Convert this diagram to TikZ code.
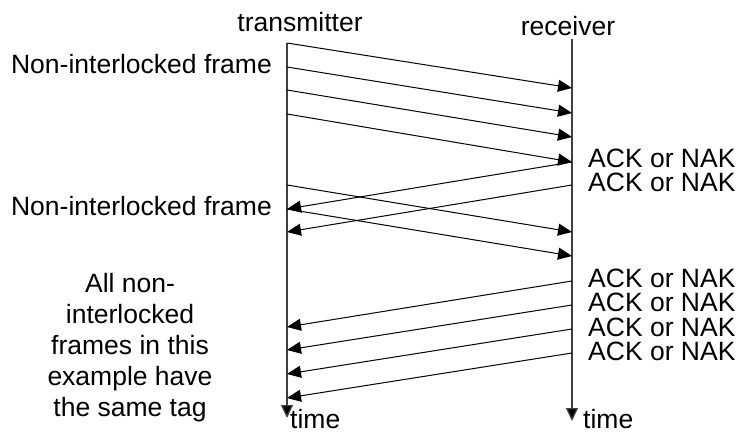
\documentclass[tikz,border=0pt]{standalone}
\usepackage{fontspec}
\setmainfont{Liberation Sans}
\usetikzlibrary{arrows.meta}
\begin{document}
\begin{tikzpicture}[x=1pt,y=-1pt,
  lbl/.style={inner sep=0pt, font=\fontsize{26.5}{23.5}\selectfont},
  ack/.style={lbl, anchor=base west, text height=18pt, text depth=0pt},
  msg/.style={line width=1pt, -{Triangle[length=14pt,width=12pt]}},
  axis/.style={line width=1.3pt, draw=black!75, -{Triangle[length=13pt,width=12pt,fill=black]}},
]
\useasboundingbox (0,0) rectangle (741,435);
% lifelines
\coordinate (ttop) at (287,43);
\coordinate (tbot) at (287,418);
\coordinate (rtop) at (572,39);
\coordinate (rbot) at (572,421);
\draw[axis] (ttop) -- (tbot);
\draw[axis] (rtop) -- (rbot);
% labels
\node[lbl, anchor=base] (tx) at (300,32) {transmitter};
\node[lbl, anchor=base] (rx) at (568,36) {receiver};
\node[lbl, anchor=base east] (nf1) at (272,74) {Non-interlocked frame};
\node[lbl, anchor=base east] (nf2) at (272,216) {Non-interlocked frame};
\node[lbl, anchor=base west] (tt) at (290,428) {time};
\node[lbl, anchor=base west] (rt) at (583,428) {time};
\node[lbl, anchor=center, align=center, font=\fontsize{26.5}{31}\selectfont] (note) at (130,348)
  {All non-\\interlocked\\frames in this\\example have\\the same tag};
\node[ack] (ak1) at (588,168) {ACK or NAK};
\node[ack] (ak2) at (588,192) {ACK or NAK};
\node[ack] (ak3) at (588,288) {ACK or NAK};
\node[ack] (ak4) at (588,312) {ACK or NAK};
\node[ack] (ak5) at (588,336) {ACK or NAK};
\node[ack] (ak6) at (588,360) {ACK or NAK};
% transmitter points
\coordinate (t1) at (287,43);
\coordinate (t2) at (287,67);
\coordinate (t3) at (287,90);
\coordinate (t4) at (287,114);
\coordinate (t5) at (287,185);
\coordinate (t6) at (287,209);
\coordinate (t7) at (287,232);
\coordinate (t8) at (287,327);
\coordinate (t9) at (287,350);
\coordinate (t10) at (287,374);
\coordinate (t11) at (287,398);
% receiver points
\coordinate (r1) at (572,88);
\coordinate (r2) at (572,113);
\coordinate (r3) at (572,137);
\coordinate (r4) at (572,162);
\coordinate (r5) at (572,185);
\coordinate (r6) at (572,232);
\coordinate (r7) at (572,256);
\coordinate (r8) at (572,281);
\coordinate (r9) at (572,305);
\coordinate (r10) at (572,329);
\coordinate (r11) at (572,353);
% frames
\draw[msg] (t1) -- (r1);
\draw[msg] (t2) -- (r2);
\draw[msg] (t3) -- (r3);
\draw[msg] (t4) -- (r4);
\draw[msg] (r4) -- (t6);
\draw[msg] (r5) -- (t7);
\draw[msg] (t5) -- (r6);
\draw[msg] (t6) -- (r7);
\draw[msg] (r8) -- (t8);
\draw[msg] (r9) -- (t9);
\draw[msg] (r10) -- (t10);
\draw[msg] (r11) -- (t11);
\end{tikzpicture}
\end{document}
